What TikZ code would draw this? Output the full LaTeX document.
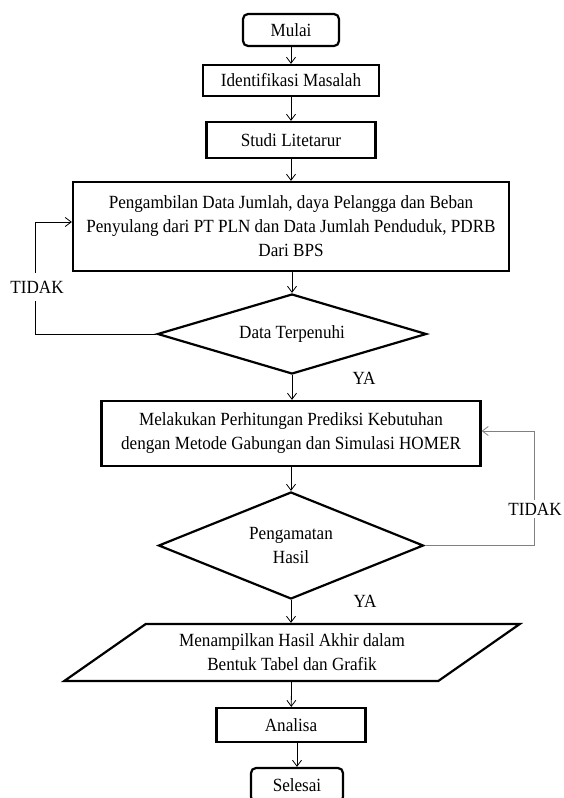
\documentclass[tikz,border=0pt]{standalone}
\usepackage{fontspec}
\setmainfont[FakeStretch=0.92]{Liberation Serif}
\usetikzlibrary{arrows.meta, shapes.geometric}

\begin{document}
\begin{tikzpicture}[x=1pt, y=-1pt,
  every node/.style = {font=\fontsize{18.6pt}{24pt}\selectfont},
  box/.style = {draw, line width=2.2pt, inner sep=2pt, align=center},
  terminal/.style = {box, rounded corners=5pt},
  decision/.style = {box, diamond, inner sep=0pt},
  io/.style = {box, trapezium, trapezium left angle=32.7, trapezium right angle=147.3, trapezium stretches=true},
  flow/.style = {draw, line width=0.8pt, -{Straight Barb[length=6pt, width=9pt]}},
  backflow/.style = {flow, gray},
  label/.style = {inner sep=1pt}
]
\useasboundingbox (0,0) rectangle (563,798);

\node[terminal, minimum width=96pt, minimum height=32pt] (mulai) at (291,30) {Mulai};
\node[box, minimum width=176pt, minimum height=31pt] (identifikasi) at (291,80.5) {Identifikasi Masalah};
\node[box, minimum width=169pt, minimum height=36pt] (studi) at (291,140) {Studi Litetarur};
\node[box, minimum width=436pt, minimum height=89pt] (ambil) at (291,226.5)
  {Pengambilan Data Jumlah, daya Pelangga dan Beban\\Penyulang dari PT PLN dan Data Jumlah Penduduk, PDRB\\Dari BPS};
\node[decision, aspect=3.3, minimum width=269pt, minimum height=80pt] (cek) at (292,334) {Data Terpenuhi};
\node[box, minimum width=379pt, minimum height=65pt] (hitung) at (291,433.5)
  {Melakukan Perhitungan Prediksi Kebutuhan\\dengan Metode Gabungan dan Simulasi HOMER};
\node[decision, aspect=2.45, minimum width=265pt, minimum height=107pt] (amati) at (291,545.5) {Pengamatan\\Hasil};
\node[io, minimum width=456pt, minimum height=57pt] (tampil) at (292,652.5)
  {Menampilkan Hasil Akhir dalam\\Bentuk Tabel dan Grafik};
\node[box, minimum width=149pt, minimum height=34pt] (analisa) at (291,725) {Analisa};
\node[terminal, minimum width=92pt, minimum height=34pt] (selesai) at (297,785) {Selesai};

\coordinate (kiri) at (35,222);
\coordinate (kanan) at (534,431);

\draw[flow] (mulai) -- (identifikasi);
\draw[flow] (identifikasi) -- (studi);
\draw[flow] (studi) -- (ambil);
\draw[flow] (ambil) -- (cek.north |- ambil.south) -- (cek.north);
\draw[flow] (cek.south) -- (hitung.north -| cek.south);
\draw[flow] (hitung) -- (amati);
\draw[flow] (amati.south) -- (tampil.north -| amati.south);
\draw[flow] (tampil) -- (analisa);
\draw[flow] (analisa.south -| selesai) -- (selesai.north);

\draw[flow] (cek.west) -| (kiri) -- (kiri -| ambil.west);
\draw[backflow] (amati.east) -| (kanan) -- (kanan -| hitung.east);

\node[label, fill=white, inner ysep=8pt] (tidak1) at (37,287) {TIDAK};
\node[label, fill=white, inner ysep=3pt] (tidak2) at (535,509) {TIDAK};
\node[label] (ya1) at (364,378) {YA};
\node[label] (ya2) at (365,601) {YA};
\end{tikzpicture}
\end{document}
